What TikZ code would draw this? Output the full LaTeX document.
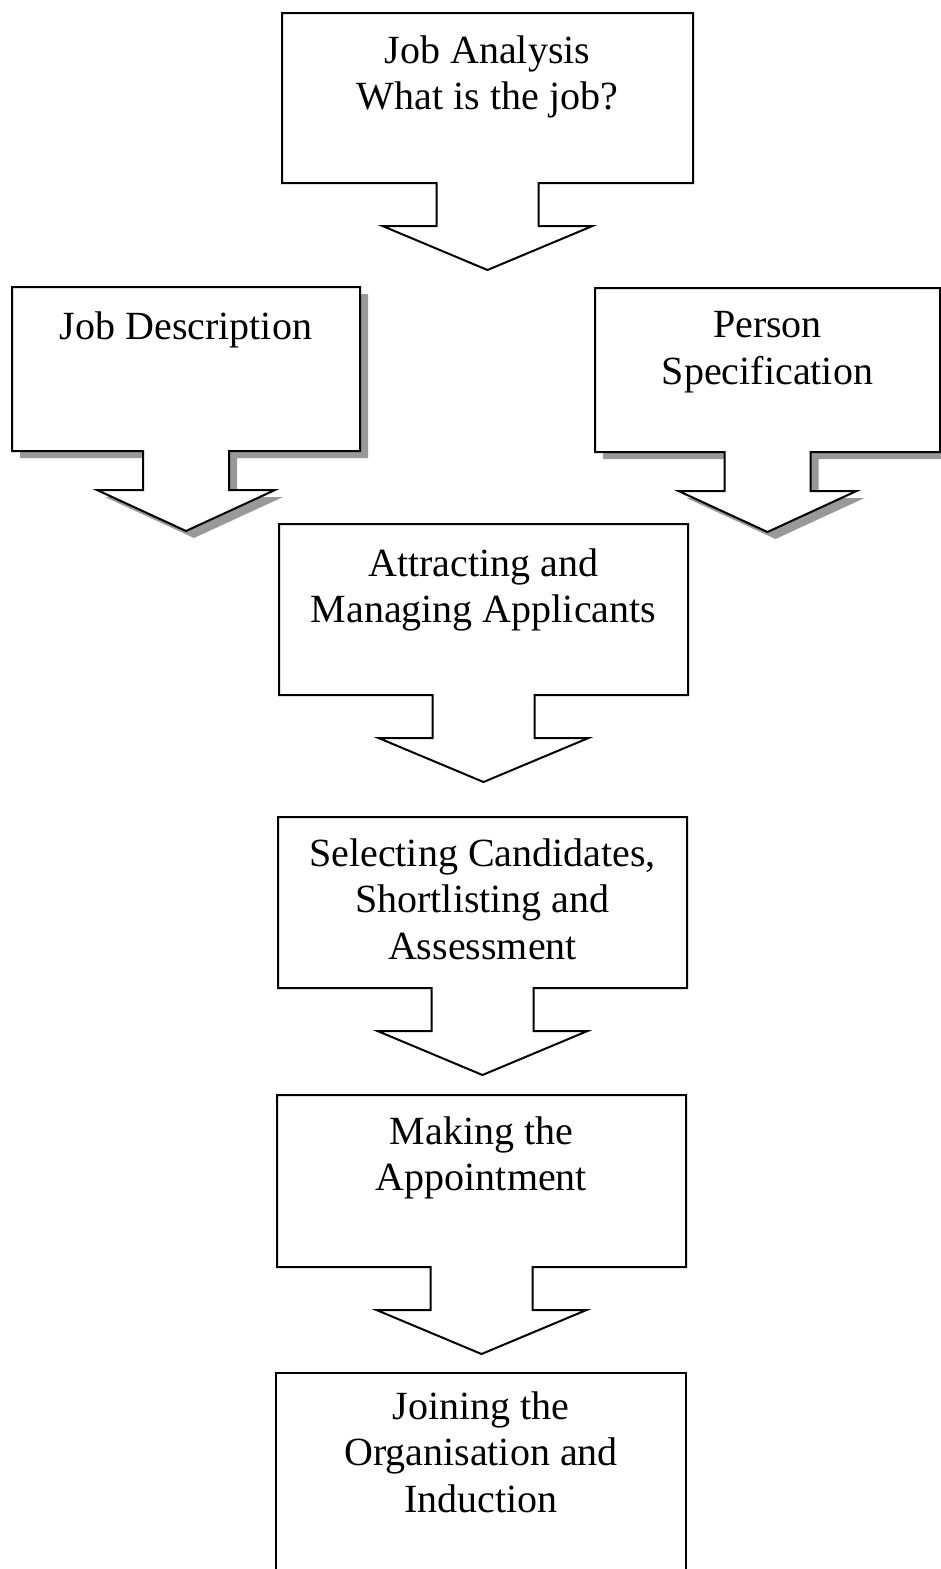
\documentclass[tikz,border=0pt]{standalone}
\usepackage{fontspec}
\setmainfont{Liberation Serif}

\definecolor{shadowgray}{gray}{0.6}
% stem and head of the arrow under each box
\def\stemw{51}\def\wingw{105}\def\steml{43}\def\headl{44}
\newcommand{\callout}[5][]{%
  \path[#1] (#2,#3) -- (#4,#3) -- (#4,#5)
    -- ({(#2+#4)/2+\stemw},#5) -- ({(#2+#4)/2+\stemw},{#5+\steml})
    -- ({(#2+#4)/2+\wingw},{#5+\steml}) -- ({(#2+#4)/2},{#5+\steml+\headl})
    -- ({(#2+#4)/2-\wingw},{#5+\steml}) -- ({(#2+#4)/2-\stemw},{#5+\steml})
    -- ({(#2+#4)/2-\stemw},#5) -- (#2,#5) -- cycle;}

\tikzset{
  box/.style={draw=black, fill=white, line width=1pt},
  boxshadow/.style={fill=shadowgray, shift={(8,7)}},
  lbl/.style={anchor=north, inner sep=0pt, align=center,
    font=\fontsize{20}{23.25}\selectfont}
}

\begin{document}
\begin{tikzpicture}[x=0.5pt,y=-0.5pt]
\useasboundingbox (0,0) rectangle (941,1569);

\callout[box]{282}{13}{693}{183}
\node[lbl] (ja) at (487.5,35) {Job Analysis\\What is the job?};

\begin{scope}
\def\stemw{43}\def\wingw{89}\def\steml{39}\def\headl{41}
\callout[boxshadow]{12}{287}{360}{451}
\callout[box]{12}{287}{360}{451}
\callout[boxshadow]{595}{288}{940}{452}
\callout[box]{595}{288}{940}{452}
\end{scope}
\node[lbl] (jd) at (186,311) {Job Description};
\node[lbl] (ps) at (767.5,311) {Person\\Specification};

\callout[box]{279}{524}{688}{695}
\node[lbl] (att) at (483.5,548) {Attracting and\\Managing Applicants};

\callout[box]{278}{817}{687}{988}
\node[lbl] (sel) at (482.5,838) {Selecting Candidates,\\Shortlisting and\\Assessment};

\callout[box]{277}{1095}{686}{1267}
\node[lbl] (app) at (481.5,1116) {Making the\\Appointment};

% last box runs off the page
\draw[line width=1pt] (276,1575) -- (276,1373) -- (686,1373) -- (686,1575);
\node[lbl] (join) at (481,1391) {Joining the\\Organisation and\\Induction};
\end{tikzpicture}
\end{document}
